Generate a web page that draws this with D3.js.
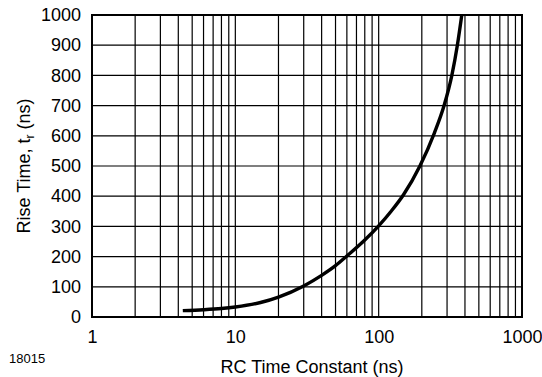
<!DOCTYPE html>
<html>
<head>
<meta charset="utf-8">
<script src="https://cdn.jsdelivr.net/npm/d3@7"></script>
<style>
body { margin: 0; background: #fff; }
text { font-family: "Liberation Sans", Arial, sans-serif; fill: #000; }
</style>
</head>
<body>
<svg class="chart"></svg>
<script>
// RC time constant (ns) vs rise time (ns)
var rcValues   = [4.3, 6, 8, 10, 15, 20, 30, 40, 50, 60, 80, 100, 123, 149, 194, 245, 286, 324, 354, 380];
var riseValues = [21, 24, 28, 33, 48, 66, 103, 138, 170, 202, 255, 302, 352, 405, 500, 610, 700, 800, 900, 1000];
var xTicks = [1, 10, 100, 1000];
var yTicks = [0, 100, 200, 300, 400, 500, 600, 700, 800, 900, 1000];

var data = rcValues.map(function(d, i){ return {x: d, y: riseValues[i]}; });

var margin = {top: 15, right: 20, bottom: 60, left: 92};
var width = 430;
var height = 302;

var svg = d3.select(".chart")
	.attr("width", 542)
	.attr("height", 377);

var chart = svg.append("g")
	.attr("transform", "translate(" + margin.left + "," + margin.top + ")");

var xChart = d3.scaleLog().domain([1, 1000]).range([0, width]);
var yChart = d3.scaleLinear().domain([0, 1000]).range([height, 0]);

//minor grid values: 1..9 in each decade
var gridX = [];
[1, 10, 100].forEach(function(dec){
	for (var k = 1; k < 10; k++) gridX.push(dec * k);
});

chart.append("g")
	.selectAll("line")
	.data(gridX)
	.enter().append("line")
	.attr("x1", function(d){ return xChart(d); })
	.attr("x2", function(d){ return xChart(d); })
	.attr("y1", 0)
	.attr("y2", height)
	.attr("stroke", "#000")
	.attr("stroke-width", 1.2);

chart.append("g")
	.selectAll("line")
	.data(yTicks)
	.enter().append("line")
	.attr("x1", 0)
	.attr("x2", width)
	.attr("y1", function(d){ return yChart(d); })
	.attr("y2", function(d){ return yChart(d); })
	.attr("stroke", "#000")
	.attr("stroke-width", 1.2);

//frame
chart.append("rect")
	.attr("width", width)
	.attr("height", height)
	.attr("fill", "none")
	.attr("stroke", "#000")
	.attr("stroke-width", 2);

//curve
var line = d3.line()
	.x(function(d){ return xChart(d.x); })
	.y(function(d){ return yChart(d.y); })
	.curve(d3.curveMonotoneX);

chart.append("path")
	.datum(data)
	.attr("d", line)
	.attr("fill", "none")
	.attr("stroke", "#000")
	.attr("stroke-width", 3.4);

//axes (labels only)
var xAxis = d3.axisBottom(xChart).tickValues(xTicks).tickFormat(d3.format("d")).tickSize(0).tickPadding(13);
var yAxis = d3.axisLeft(yChart).tickValues(yTicks).tickFormat(d3.format("d")).tickSize(0).tickPadding(11);

chart.append("g")
	.attr("class", "xAxis")
	.attr("transform", "translate(0," + height + ")")
	.call(xAxis)
	.call(function(g){ g.select(".domain").remove(); })
	.selectAll("text")
		.style("font-size", "18px")
		.style("font-family", "Liberation Sans, Arial, sans-serif");

chart.append("g")
	.attr("class", "y axis")
	.call(yAxis)
	.call(function(g){ g.select(".domain").remove(); })
	.selectAll("text")
		.style("font-size", "18px")
		.style("font-family", "Liberation Sans, Arial, sans-serif");

//labels
var yLabel = svg.append("text")
	.attr("transform", "translate(30," + (margin.top + height / 2) + ") rotate(-90)")
	.attr("text-anchor", "middle")
	.style("font-size", "18px");
yLabel.append("tspan").text("Rise Time, t");
yLabel.append("tspan").attr("dy", 4).style("font-size", "12px").text("r");
yLabel.append("tspan").attr("dy", -4).text(" (ns)");

svg.append("text")
	.attr("x", 312)
	.attr("y", 373)
	.attr("text-anchor", "middle")
	.style("font-size", "18px")
	.text("RC Time Constant (ns)");

svg.append("text")
	.attr("x", 9)
	.attr("y", 363)
	.style("font-size", "13px")
	.text("18015");
</script>
</body>
</html>
